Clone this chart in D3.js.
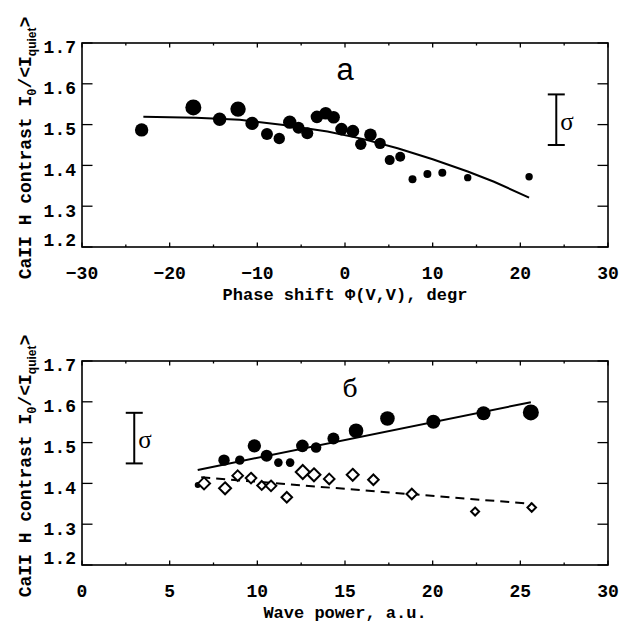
<html>
  <script src="https://d3js.org/d3.v7.min.js"></script>
  <body style="margin:0; background:white">
    <div id="chart"></div>
    <script>
      // ---- data, top panel (phase shift) ----
      var phaseX = [-23.2, -17.3, -14.3, -12.2, -10.6, -8.9, -7.5, -6.3, -5.3, -4.3, -3.2, -2.2, -1.3,
                    -0.4, 0.9, 1.8, 2.9, 4.0, 5.1, 6.3, 7.7, 9.4, 11.1, 14.0, 21.0];
      var phaseY = [1.487, 1.542, 1.513, 1.538, 1.503, 1.477, 1.466, 1.506, 1.492, 1.479, 1.519, 1.528, 1.518,
                    1.489, 1.484, 1.452, 1.475, 1.454, 1.413, 1.421, 1.366, 1.379, 1.382, 1.370, 1.372];
      var phaseWeight = [6.7, 8, 6.7, 7.7, 6.7, 6, 5.7, 6.7, 6, 6, 6.3, 6.3, 6.3,
                         6.3, 6.3, 5.7, 6.3, 5.7, 5, 5, 4, 4, 4, 3.7, 3.7];
      var phaseFitX = [-23, -17, -12, -7, -2, 2, 6, 10, 14, 17, 21];
      var phaseFitY = [1.519, 1.517, 1.512, 1.499, 1.483, 1.465, 1.442, 1.415, 1.385, 1.360, 1.321];
      var phaseSigma = [24.1, 1.45, 1.574];   // x, low, high
      var phaseTicks = [-30, -20, -10, 0, 10, 20, 30];
      var phaseTickLabels = ["\u221230", "\u221220", "\u221210", "0", "10", "20", "30"];
      var phaseMinor = [-25, -15, -5, 5, 15, 25];

      // ---- data, bottom panel (wave power) ----
      var powerX = [6.6, 8.1, 9.0, 9.83, 10.53, 11.2, 11.87, 12.57, 13.35, 14.34, 15.63, 17.42, 20.04, 22.9, 25.6];
      var powerY = [1.396, 1.457, 1.457, 1.492, 1.468, 1.451, 1.451, 1.492, 1.488, 1.510, 1.529, 1.559, 1.551, 1.572, 1.574];
      var powerWeight = [3, 5.7, 4.7, 6.7, 6, 4.3, 4.3, 6.3, 5.3, 6, 7.3, 7.3, 7, 7, 8];
      var diamondX = [6.96, 8.16, 8.88, 9.64, 10.25, 10.78, 11.68, 12.59, 13.23, 14.1, 15.44, 16.62, 18.81, 22.42, 25.65];
      var diamondY = [1.400, 1.388, 1.419, 1.413, 1.395, 1.394, 1.366, 1.428, 1.421, 1.411, 1.421, 1.409, 1.374, 1.331, 1.341];
      var diamondWeight = [6, 6, 5.3, 5.3, 4.5, 5.3, 5.3, 7, 6.5, 5.3, 6, 5.3, 5.3, 4, 4.3];
      var powerFitX = [6.6, 25.6];
      var powerFitY = [1.433, 1.599];
      var diamondFitX = [6.8, 25.6];
      var diamondFitY = [1.415, 1.350];
      var powerSigma = [2.98, 1.449, 1.573];
      var powerTicks = [0, 5, 10, 15, 20, 25, 30];
      var powerTickLabels = ["0", "5", "10", "15", "20", "25", "30"];
      var powerMinor = [2.5, 7.5, 12.5, 17.5, 22.5, 27.5];

      var yTicks = [1.2, 1.3, 1.4, 1.5, 1.6, 1.7];
      var yTickLabels = ["1.2", "1.3", "1.4", "1.5", "1.6", "1.7"];

      var width = 619;
      var height = 624;
      var font = "Liberation Mono";
      var svg = d3.select("#chart")
        .append("svg").attr("width", width).attr("height", height);
      svg.append("rect").attr("width", width).attr("height", height).attr("fill", "white");

      // marker weight -> pixel radius
      var rScale = d3.scaleLinear().domain([0, 10]).range([0, 10]);

      var lineFunc = d3.line()
        .x(function(d) { return d.x })
        .y(function(d) { return d.y });

      function zip(xs, ys) {
        return xs.map(function(v, i) { return [v, ys[i]] });
      }

      // one framed panel with axes, returns scales
      function makePanel(top, xDomain, ticks, tickLabels, minor, title) {
        var box = {left: 82, right: 608, top: top, bottom: top + 204};
        var x = d3.scaleLinear().domain(xDomain).range([box.left, box.right]);
        var y = d3.scaleLinear().domain([1.2, 1.7]).range([box.bottom, box.top]);
        var g = svg.append("g");

        g.append("rect")
          .attr("x", box.left).attr("y", box.top)
          .attr("width", box.right - box.left).attr("height", box.bottom - box.top)
          .attr("fill", "none").attr("stroke", "black").attr("stroke-width", 1.6);

        // x ticks on bottom and top edges
        ticks.forEach(function(t) {
          g.append("line").attr("x1", x(t)).attr("x2", x(t))
            .attr("y1", box.bottom).attr("y2", box.bottom - 4.5)
            .attr("stroke", "black").attr("stroke-width", 1.3);
          g.append("line").attr("x1", x(t)).attr("x2", x(t))
            .attr("y1", box.top).attr("y2", box.top + 4.5)
            .attr("stroke", "black").attr("stroke-width", 1.3);
        });
        minor.forEach(function(t) {
          g.append("line").attr("x1", x(t)).attr("x2", x(t))
            .attr("y1", box.bottom).attr("y2", box.bottom - 2.5)
            .attr("stroke", "black").attr("stroke-width", 1.3);
          g.append("line").attr("x1", x(t)).attr("x2", x(t))
            .attr("y1", box.top).attr("y2", box.top + 2.5)
            .attr("stroke", "black").attr("stroke-width", 1.3);
        });
        g.selectAll(".xl").data(ticks).enter().append("text")
          .attr("x", function(d) { return x(d) })
          .attr("y", box.bottom + 32)
          .attr("text-anchor", "middle")
          .attr("font-family", font).attr("font-size", 18).attr("font-weight", "bold")
          .text(function(d, i) { return tickLabels[i] });

        // y ticks left and right
        yTicks.forEach(function(t, i) {
          g.append("line").attr("x1", box.left).attr("x2", box.left + 10.5)
            .attr("y1", y(t)).attr("y2", y(t))
            .attr("stroke", "black").attr("stroke-width", 1.3);
          g.append("line").attr("x1", box.right).attr("x2", box.right - 10.5)
            .attr("y1", y(t)).attr("y2", y(t))
            .attr("stroke", "black").attr("stroke-width", 1.3);
          g.append("text")
            .attr("x", box.left - 6)
            .attr("y", Math.min(y(t) + 4, box.bottom - 7))
            .attr("dy", "0.36em")
            .attr("text-anchor", "end")
            .attr("font-family", font).attr("font-size", 18).attr("font-weight", "bold")
            .text(yTickLabels[i]);
        });

        // x title
        g.append("text")
          .attr("x", (box.left + box.right) / 2)
          .attr("y", box.bottom + 53)
          .attr("text-anchor", "middle")
          .attr("font-family", font).attr("font-size", 17).attr("font-weight", "bold")
          .text(title);

        // y title, rotated
        var yt = g.append("text")
          .attr("transform", "translate(31," + ((box.top + box.bottom) / 2 + 3) + ") rotate(-90)")
          .attr("text-anchor", "middle")
          .attr("font-family", font).attr("font-size", 18).attr("font-weight", "bold");
        yt.append("tspan").text("CaII H contrast I");
        yt.append("tspan").attr("dy", 5).attr("font-size", 12).text("0");
        yt.append("tspan").attr("dy", -5).text("/<I");
        yt.append("tspan").attr("dy", 5).attr("font-size", 12).attr("font-family", "Liberation Sans").text("quiet");
        yt.append("tspan").attr("dy", -5).text(">");

        return {x: x, y: y, g: g};
      }

      function sigmaBar(p, s) {
        var xp = p.x(s[0]);
        var y0 = p.y(s[1]), y1 = p.y(s[2]);
        p.g.append("line").attr("x1", xp).attr("x2", xp).attr("y1", y0).attr("y2", y1)
          .attr("stroke", "black").attr("stroke-width", 2);
        [y0, y1].forEach(function(yy) {
          p.g.append("line").attr("x1", xp - 8.5).attr("x2", xp + 8.5).attr("y1", yy).attr("y2", yy)
            .attr("stroke", "black").attr("stroke-width", 2);
        });
        p.g.append("text")
          .attr("x", xp + 4).attr("y", (y0 + y1) / 2 + 10)
          .attr("font-family", "Liberation Serif").attr("font-size", 25)
          .text("\u03c3");
      }

      // ---- top panel ----
      var topPanel = makePanel(43, [-30, 30], phaseTicks, phaseTickLabels, phaseMinor,
                               "Phase shift \u03a6(V,V), degr");

      topPanel.g.append("path")
        .attr("d", lineFunc(zip(phaseFitX, phaseFitY).map(function(d) {
          return {x: topPanel.x(d[0]), y: topPanel.y(d[1])} })))
        .attr("fill", "none").attr("stroke", "black").attr("stroke-width", 2);

      topPanel.g.selectAll(".pc").data(d3.range(phaseX.length)).enter().append("circle")
        .attr("cx", function(i) { return topPanel.x(phaseX[i]) })
        .attr("cy", function(i) { return topPanel.y(phaseY[i]) })
        .attr("r", function(i) { return rScale(phaseWeight[i]) })
        .attr("fill", "black");

      sigmaBar(topPanel, phaseSigma);

      topPanel.g.append("text")
        .attr("x", topPanel.x(0)).attr("y", topPanel.y(1.609))
        .attr("text-anchor", "middle")
        .attr("font-family", "Liberation Sans").attr("font-size", 31)
        .text("\u0430");

      // ---- bottom panel ----
      var botPanel = makePanel(361, [0, 30], powerTicks, powerTickLabels, powerMinor,
                               "Wave power, a.u.");

      botPanel.g.append("path")
        .attr("d", lineFunc(zip(powerFitX, powerFitY).map(function(d) {
          return {x: botPanel.x(d[0]), y: botPanel.y(d[1])} })))
        .attr("fill", "none").attr("stroke", "black").attr("stroke-width", 2);

      botPanel.g.append("path")
        .attr("d", lineFunc(zip(diamondFitX, diamondFitY).map(function(d) {
          return {x: botPanel.x(d[0]), y: botPanel.y(d[1])} })))
        .attr("fill", "none").attr("stroke", "black").attr("stroke-width", 2)
        .attr("stroke-dasharray", "9,6");

      botPanel.g.selectAll(".bc").data(d3.range(powerX.length)).enter().append("circle")
        .attr("cx", function(i) { return botPanel.x(powerX[i]) })
        .attr("cy", function(i) { return botPanel.y(powerY[i]) })
        .attr("r", function(i) { return rScale(powerWeight[i]) })
        .attr("fill", "black");

      botPanel.g.selectAll(".bd").data(d3.range(diamondX.length)).enter().append("path")
        .attr("d", function(i) {
          var cx = botPanel.x(diamondX[i]), cy = botPanel.y(diamondY[i]), s = rScale(diamondWeight[i]);
          return "M" + cx + "," + (cy - s) + "L" + (cx + s) + "," + cy +
                 "L" + cx + "," + (cy + s) + "L" + (cx - s) + "," + cy + "Z";
        })
        .attr("fill", "white").attr("stroke", "black").attr("stroke-width", 2);

      sigmaBar(botPanel, powerSigma);

      botPanel.g.append("text")
        .attr("x", botPanel.x(15.3)).attr("y", botPanel.y(1.612))
        .attr("text-anchor", "middle")
        .attr("font-family", "DejaVu Serif").attr("font-size", 25)
        .text("\u0431");
    </script>
  </body>
</html>
